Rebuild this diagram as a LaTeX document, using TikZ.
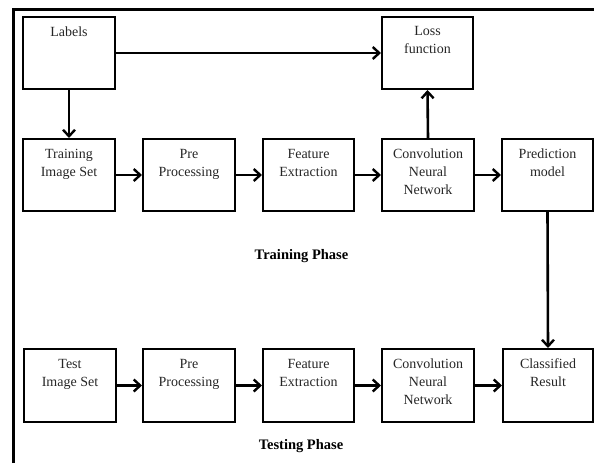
\documentclass[tikz,border=0pt]{standalone}
\usepackage{fontspec}
\setmainfont{Liberation Serif}
\usetikzlibrary{arrows.meta}
\begin{document}
\begin{tikzpicture}[x=1pt,y=-1pt,
  box/.style={draw, line width=2pt, inner sep=0pt},
  txt/.style={font=\fontsize{14}{18}\selectfont, align=center, inner sep=0pt, text=black!85, anchor=base},
  phase/.style={font=\fontsize{14.5}{18}\selectfont\bfseries, inner sep=0pt, anchor=base},
  arr/.style={line width=2.6pt, -{Straight Barb[length=6.5pt,width=12pt,line width=2.4pt]}}]
\useasboundingbox (0,0) rectangle (594,463);
% frame
\coordinate (fTL) at (13,9);
\coordinate (fTR) at (594,9);
\coordinate (fBL) at (13,463);
\draw[line width=3pt] (fBL) -- (fTL) -- (fTR);
% boxes
\node[box, minimum width=92pt, minimum height=72pt] (labels) at (69,53) {};
\node[box, minimum width=91pt, minimum height=72pt] (loss) at (427.5,53) {};
\node[box, minimum width=92pt, minimum height=72pt] (train) at (69,175) {};
\node[box, minimum width=92pt, minimum height=72pt] (pre1) at (189,175) {};
\node[box, minimum width=91pt, minimum height=72pt] (feat1) at (308.5,175) {};
\node[box, minimum width=92pt, minimum height=72pt] (cnn1) at (428,175) {};
\node[box, minimum width=91pt, minimum height=72pt] (pred) at (547.5,175) {};
\node[box, minimum width=92pt, minimum height=73pt] (test) at (70,385.5) {};
\node[box, minimum width=92pt, minimum height=73pt] (pre2) at (189,385.5) {};
\node[box, minimum width=91pt, minimum height=73pt] (feat2) at (308.5,385.5) {};
\node[box, minimum width=92pt, minimum height=73pt] (cnn2) at (428,385.5) {};
\node[box, minimum width=90pt, minimum height=73pt] (class) at (548,385.5) {};
% texts (anchor=base is the baseline of the last line)
\node[txt] (labelsT) at (69,36) {Labels};
\node[txt] (lossT) at (427.5,53) {Loss\\function};
\node[txt] (trainT) at (69,176) {Training\\Image Set};
\node[txt] (pre1T) at (189,176) {Pre\\Processing};
\node[txt] (feat1T) at (308.5,176) {Feature\\Extraction};
\node[txt] (cnn1T) at (428,194) {Convolution\\Neural\\Network};
\node[txt] (predT) at (547.5,176) {Prediction\\model};
\node[txt] (testT) at (70,386) {Test\\Image Set};
\node[txt] (pre2T) at (189,386) {Pre\\Processing};
\node[txt] (feat2T) at (308.5,386) {Feature\\Extraction};
\node[txt] (cnn2T) at (428,404) {Convolution\\Neural\\Network};
\node[txt] (classT) at (548,386) {Classified\\Result};
\node[phase] (trainPhase) at (301.5,259) {Training Phase};
\node[phase] (testPhase) at (301,449) {Testing Phase};
% arrows
\draw[arr] (labels.east) -- (loss.west);
\draw[arr] (labels.south) -- (train.north);
\draw[arr] (cnn1.north) -- (loss.south);
\draw[arr] (train) -- (pre1);
\draw[arr] (pre1) -- (feat1);
\draw[arr] (feat1) -- (cnn1);
\draw[arr] (cnn1) -- (pred);
\draw[arr] (pred.south) -- (class.north);
\draw[arr] (test) -- (pre2);
\draw[arr] (pre2) -- (feat2);
\draw[arr] (feat2) -- (cnn2);
\draw[arr] (cnn2) -- (class);
\end{tikzpicture}
\end{document}
